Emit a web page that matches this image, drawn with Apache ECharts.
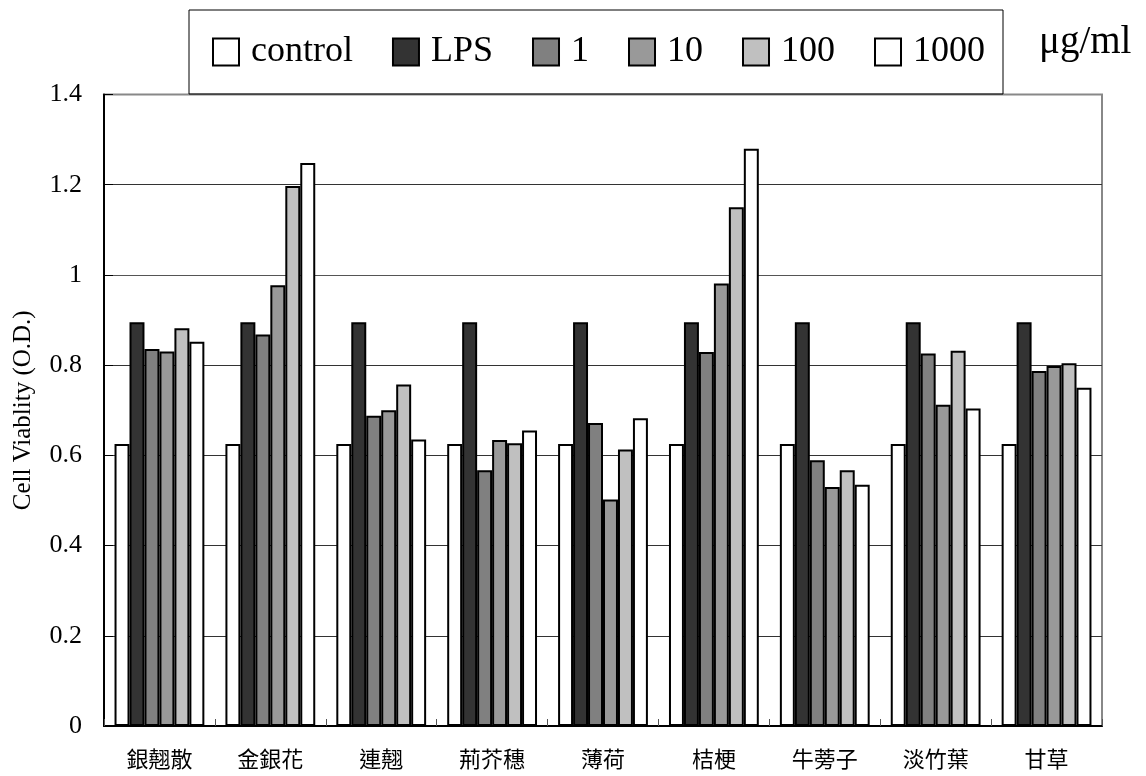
<!DOCTYPE html>
<html>
<head>
<meta charset="utf-8">
<script src="https://cdn.jsdelivr.net/npm/echarts@6/dist/echarts.min.js"></script>
<style>html,body{margin:0;padding:0;background:#fff;}#c{width:1146px;height:776px;}</style>
</head>
<body>
<div id="c"></div>
<script>
const categories = ['銀翹散','金銀花','連翹','荊芥穗','薄荷','桔梗','牛蒡子','淡竹葉','甘草'];
const seriesNames = ['control','LPS','1','10','100','1000'];
const controlVals = [0.625,0.625,0.625,0.625,0.625,0.625,0.625,0.625,0.625];
const lpsVals     = [0.895,0.895,0.895,0.895,0.895,0.895,0.895,0.895,0.895];
const dose1Vals   = [0.836,0.868,0.688,0.567,0.672,0.829,0.589,0.826,0.787];
const dose10Vals  = [0.830,0.977,0.700,0.634,0.502,0.981,0.530,0.712,0.798];
const dose100Vals = [0.882,1.197,0.757,0.627,0.613,1.150,0.567,0.832,0.804];
const dose1000Vals= [0.852,1.248,0.635,0.655,0.682,1.280,0.535,0.704,0.750];
const yTicks = [0,0.2,0.4,0.6,0.8,1.0,1.2,1.4];
const unitLabel = 'μg/ml';
const yName = 'Cell Viablity (O.D.)';

const allVals = [controlVals,lpsVals,dose1Vals,dose10Vals,dose100Vals,dose1000Vals];
const fills = ['#ffffff','#333333','#808080','#999999','#c0c0c0','#ffffff'];

const chart = echarts.init(document.getElementById('c'), null, {renderer:'canvas'});
const series = seriesNames.map((n,i)=>({
  name:n, type:'bar', data: allVals[i],
  barGap:'0%', barCategoryGap:'19%',
  itemStyle:{color:fills[i], borderColor:'#000', borderWidth:2},
  emphasis:{disabled:true}
}));
chart.setOption({
  animation:false,
  backgroundColor:'#fff',
  title:{text:unitLabel, left:1034, top:18, textStyle:{fontFamily:'Liberation Serif', fontSize:39, fontWeight:'normal', color:'#000'}},
  legend:{
    data:seriesNames, left:189, top:10,
    orient:'horizontal',
    padding:[24,18,24,23],
    borderColor:'#000', borderWidth:1,
    itemWidth:26, itemHeight:27, itemGap:39,
    icon:'rect',
    itemStyle:{borderColor:'#000', borderWidth:2},
    textStyle:{fontFamily:'Liberation Serif', fontSize:36, color:'#000', padding:[0,0,0,7], lineHeight:27},
    selectedMode:false
  },
  grid:{left:104, right:44, top:94.5, bottom:50, show:true, borderColor:'#888', borderWidth:2, backgroundColor:'transparent'},
  xAxis:{
    type:'category', data:categories,
    axisLine:{lineStyle:{color:'#000', width:2}},
    axisTick:{show:true, inside:true, length:7, lineStyle:{color:'#555', width:1}},
    axisLabel:{fontFamily:'Noto Sans CJK TC', fontSize:22, color:'#000', margin:22}
  },
  yAxis:{
    type:'value', min:yTicks[0], max:yTicks[yTicks.length-1], interval:0.2,
    name:yName, nameLocation:'middle', nameGap:68, nameRotate:90,
    nameTextStyle:{fontFamily:'Liberation Serif', fontSize:25, color:'#000'},
    axisLine:{show:true, lineStyle:{color:'#000', width:2}},
    axisTick:{show:true, inside:true, length:9, lineStyle:{color:'#000', width:1}},
    axisLabel:{fontFamily:'Liberation Serif', fontSize:26, color:'#000', margin:22,
      formatter:v=>String(Math.round(v*10)/10)},
    splitLine:{show:true, lineStyle:{color:['#333','#333','#333','#333','#333','#555','#333','#888'], width:1}}
  },
  series:series
});
</script>
</body>
</html>
